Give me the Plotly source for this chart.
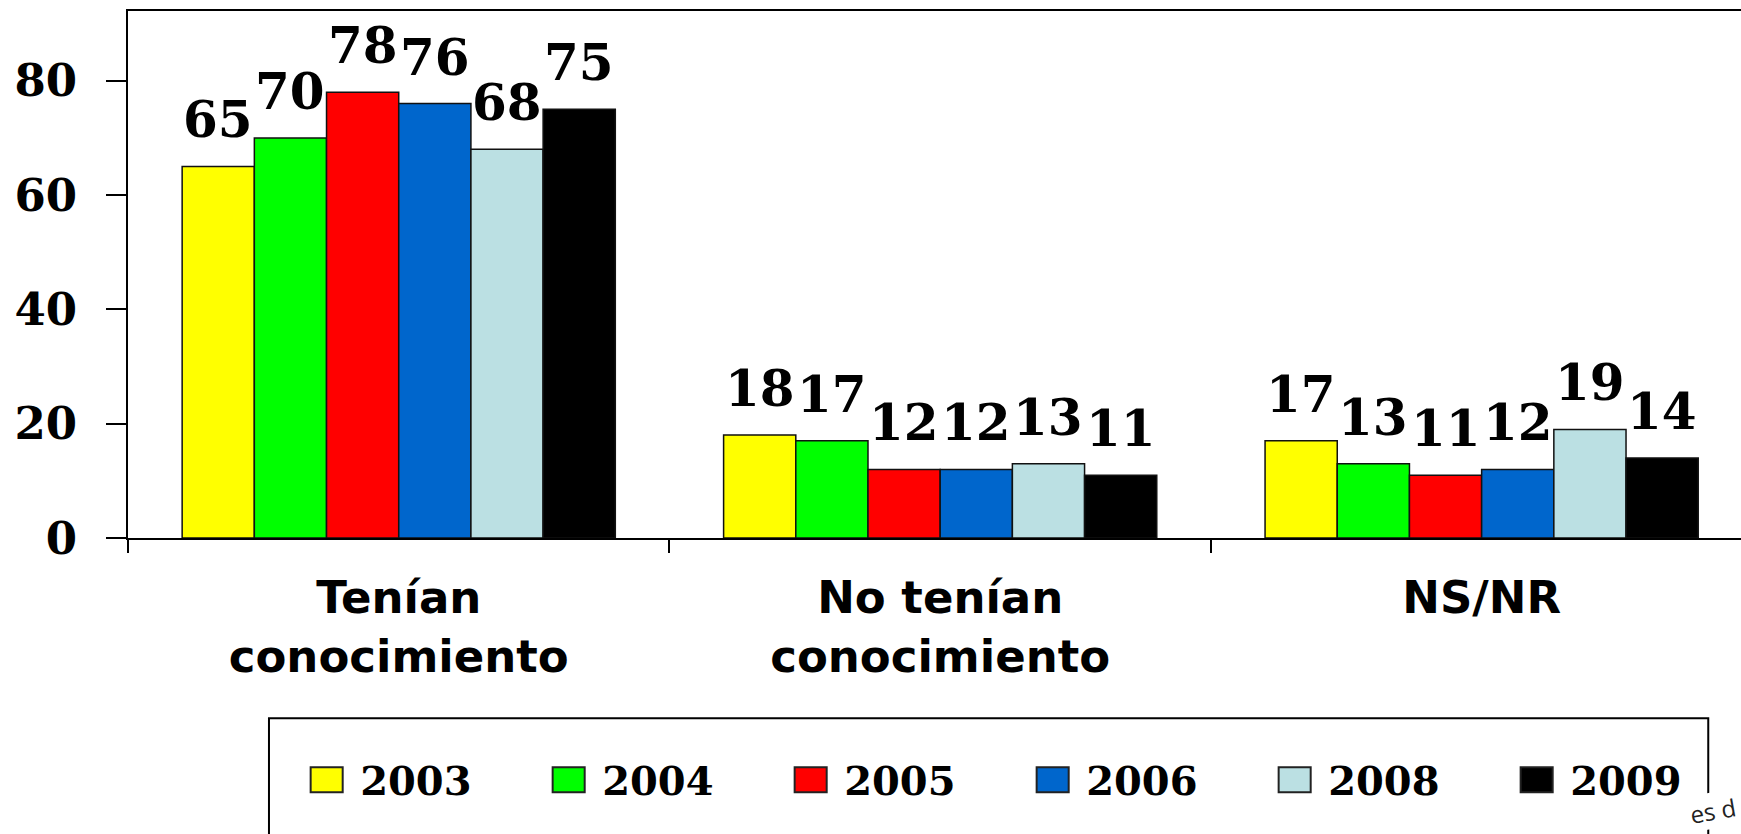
import plotly.graph_objects as go

categories = ["Tenían<br>conocimiento", "No tenían<br>conocimiento", "NS/NR"]
years = ["2003", "2004", "2005", "2006", "2008", "2009"]
v2003 = [65, 18, 17]
v2004 = [70, 17, 13]
v2005 = [78, 12, 11]
v2006 = [76, 12, 12]
v2008 = [68, 13, 19]
v2009 = [75, 11, 14]
series = [v2003, v2004, v2005, v2006, v2008, v2009]
colors = ["#FFFF00", "#00FF00", "#FF0000", "#0066CC", "#BBE0E3", "#000000"]

W, H = 1741, 834
ML, MR, MT, MB = 128, 0, 11, 296
BARGAP = 0.2
SERIF = "DejaVu Serif"

fig = go.Figure()
for name, vals, col in zip(years, series, colors):
    fig.add_trace(go.Bar(
        x=categories, y=vals, name=name,
        marker=dict(color=col, line=dict(color="#111111", width=1.5)),
        hoverinfo="x+y+name",
    ))

# value labels above bars, positioned through the category axis scale
n = len(series)
bw = (1 - BARGAP) / n
annotations = []
for j, vals in enumerate(series):
    for i, v in enumerate(vals):
        annotations.append(dict(
            x=i + (j - (n - 1) / 2) * bw, y=v, xref="x", yref="y",
            text=f"<b>{v}</b>", showarrow=False, yanchor="bottom", xanchor="center",
            yshift=15, font=dict(family=SERIF, size=50, color="black"),
        ))

# stray text fragment at bottom right
annotations.append(dict(
    x=1.0, y=-0.5598, xref="paper", yref="paper", text="es d",
    showarrow=False, xanchor="right", yanchor="bottom", textangle=-10,
    bgcolor="white", borderpad=1, font=dict(family="Open Sans", size=24, color="#222222"),
))

fig.update_layout(
    width=W, height=H,
    margin=dict(l=ML, r=MR, t=MT, b=MB, autoexpand=False),
    paper_bgcolor="white", plot_bgcolor="white",
    barmode="group", bargap=BARGAP, bargroupgap=0,
    showlegend=True,
    legend=dict(
        orientation="h", x=0.1024, y=-0.4586, xanchor="left", yanchor="middle",
        font=dict(family=SERIF, size=40, color="black", weight="bold"),
        itemwidth=57, entrywidth=170, entrywidthmode="pixels",
        bgcolor="rgba(0,0,0,0)", borderwidth=0, traceorder="normal",
    ),
    annotations=annotations,
    shapes=[dict(
        type="rect", xref="paper", yref="paper",
        x0=0.0874, x1=0.9797, y0=-0.62, y1=-0.3421,
        line=dict(color="black", width=2), fillcolor="rgba(0,0,0,0)", layer="below",
    )],
    xaxis=dict(
        type="category", range=[-0.5, 2.479],
        showline=True, linecolor="black", linewidth=2, mirror=True,
        ticks="outside", tickson="boundaries", ticklen=13, tickwidth=2, tickcolor="black",
        tickfont=dict(family="DejaVu Sans", size=45, color="black", weight="bold"),
        ticklabelstandoff=19, showgrid=False, zeroline=False,
    ),
    yaxis=dict(
        range=[0, 92.2], tickvals=[0, 20, 40, 60, 80],
        showline=True, linecolor="black", linewidth=2, mirror=False,
        ticks="outside", ticklen=20, tickwidth=2, tickcolor="black",
        tickfont=dict(family=SERIF, size=45, color="black", weight="bold"),
        ticklabelstandoff=20, showgrid=False, zeroline=False,
    ),
)

post = """
document.body.style.margin = '0';
var gd = document.getElementById('{plot_id}');
gd.querySelectorAll('.legendpoints path').forEach(function(p){
  var t = p.getAttribute('transform') || '';
  p.setAttribute('transform', t + ' scale(2.67,2.08)');
  p.style.vectorEffect = 'non-scaling-stroke';
  p.style.strokeWidth = '2px';
  p.style.stroke = '#222222';
});
"""
fig.write_html("out.html", post_script=post, config={"displayModeBar": False})
